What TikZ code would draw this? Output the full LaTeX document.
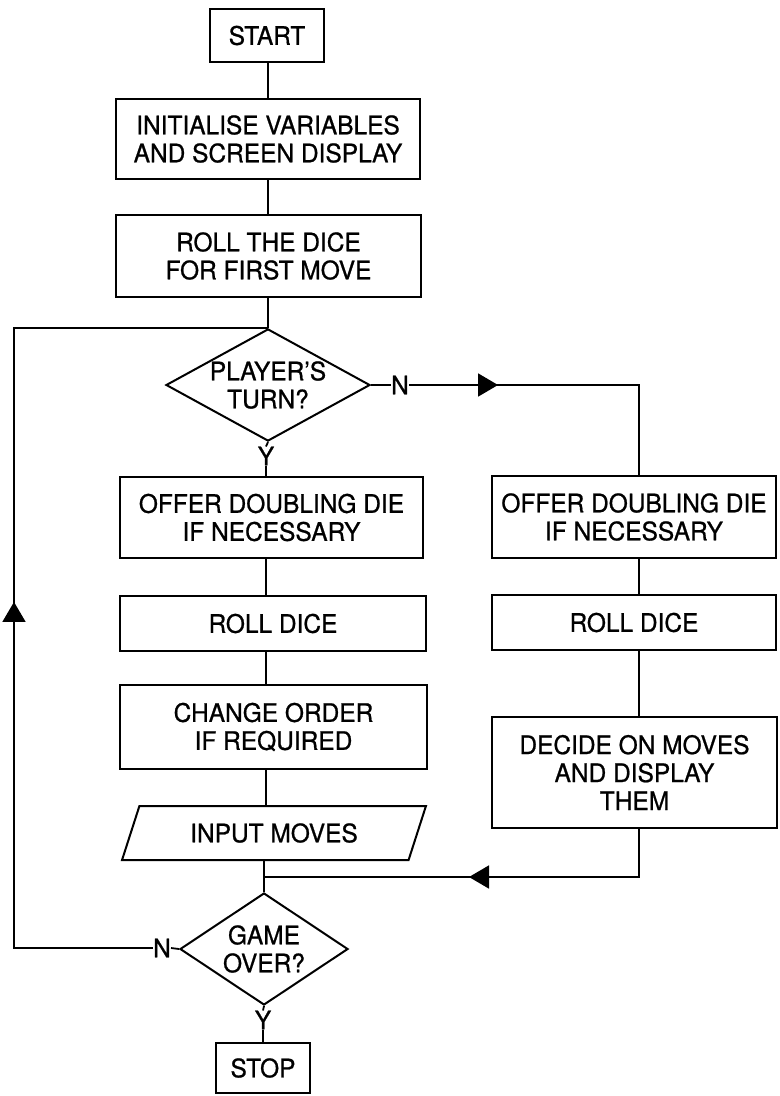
\documentclass[tikz,border=0pt]{standalone}
\usepackage{fontspec}
\setmainfont{TeX Gyre Heros}[FakeBold=0.8, FakeStretch=0.96]
\usetikzlibrary{shapes.geometric,arrows.meta,decorations.markings}

\begin{document}
\begin{tikzpicture}[x=1bp,y=-1bp,
  every node/.style={font=\fontsize{25.5bp}{28bp}\selectfont, align=center, inner sep=0pt},
  box/.style={draw, line width=2bp},
  decision/.style={draw, line width=2bp, diamond},
  iobox/.style={draw, line width=2bp, trapezium, trapezium left angle=61,
    trapezium right angle=119, trapezium stretches=true},
  flowline/.style={line width=1.8bp},
  midarrow/.style={postaction={decorate}, decoration={markings,
    mark=at position #1 with {\arrow{Triangle[length=20bp,width=23bp]}}}}
]
\useasboundingbox (0,0) rectangle (780,1096);

% guide lines for the vertical runs
\coordinate (sp) at (268,0);
\coordinate (sq) at (266,0);
\coordinate (rs) at (639,0);
\coordinate (lp) at (14,0);
\coordinate (merge) at (264,877);

% main column
\node[box, minimum width=114bp, minimum height=53bp] (start) at (267,35.5) {START};
\node[box, minimum width=304bp, minimum height=80bp] (init) at (268,139) {INITIALISE VARIABLES\\AND SCREEN DISPLAY};
\node[box, minimum width=305bp, minimum height=82bp] (roll0) at (268.5,256) {ROLL THE DICE\\FOR FIRST MOVE};
\node[decision, minimum width=204bp, minimum height=112bp, shape aspect=1.8] (turn) at (268,385) {PLAYER’S\\TURN?};
\node (n1) at (400,385) {N};
\node (y1) at (266,456) {Y};

% player's branch
\node[box, minimum width=303bp, minimum height=81bp] (offer1) at (271.5,517.5) {OFFER DOUBLING DIE\\IF NECESSARY};
\node[box, minimum width=306bp, minimum height=55bp] (roll1) at (273,623.5) {ROLL DICE};
\node[box, minimum width=307bp, minimum height=84bp] (change) at (273.5,727) {CHANGE ORDER\\IF REQUIRED};
\node[iobox, minimum width=304bp, minimum height=54bp] (input) at (274,833) {INPUT MOVES};

% computer's branch
\node[box, minimum width=284bp, minimum height=82bp] (offer2) at (634,517) {OFFER DOUBLING DIE\\IF NECESSARY};
\node[box, minimum width=284bp, minimum height=55bp] (roll2) at (634,622.5) {ROLL DICE};
\node[box, minimum width=285bp, minimum height=111bp] (decide) at (634.5,772.5) {DECIDE ON MOVES\\AND DISPLAY\\THEM};

% end test
\node[decision, minimum width=168bp, minimum height=112bp, shape aspect=1.5] (game) at (264,949) {GAME\\OVER?};
\node (n2) at (162,948) {N};
\node (y2) at (263,1020) {Y};
\node[box, minimum width=94bp, minimum height=50bp] (stop) at (263,1068) {STOP};

% connectors, main column
\draw[flowline] (start.south -| sp) -- (init.north -| sp);
\draw[flowline] (init.south -| sp) -- (roll0.north -| sp);
\draw[flowline] (roll0.south -| sp) -- (turn.north);
\draw[flowline] (turn.south) -- (y1.north);
\draw[flowline] (y1.south) -- (y1.south |- offer1.north);
\draw[flowline] (offer1.south -| sq) -- (roll1.north -| sq);
\draw[flowline] (roll1.south -| sq) -- (change.north -| sq);
\draw[flowline] (change.south -| sq) -- (input.north -| sq);
\draw[flowline] (input.south -| game.north) -- (game.north);
\draw[flowline] (game.south) -- (y2.north);
\draw[flowline] (y2.south) -- (y2.south |- stop.north);

% computer's branch
\draw[flowline] (turn.east) -- (n1.west);
\draw[flowline, midarrow=89bp] (n1.east) -- (n1.east -| rs) -- (rs |- offer2.north);
\draw[flowline] (offer2.south -| rs) -- (roll2.north -| rs);
\draw[flowline] (roll2.south -| rs) -- (decide.north -| rs);
\draw[flowline, midarrow=218bp] (decide.south -| rs) -- (rs |- merge) -- (merge);

% loop back
\draw[flowline] (game.west) -- (n2.east);
\draw[flowline, midarrow=485bp] (n2.west) -- (n2.west -| lp) -- (lp |- turn.north) -- (turn.north);
\end{tikzpicture}
\end{document}
